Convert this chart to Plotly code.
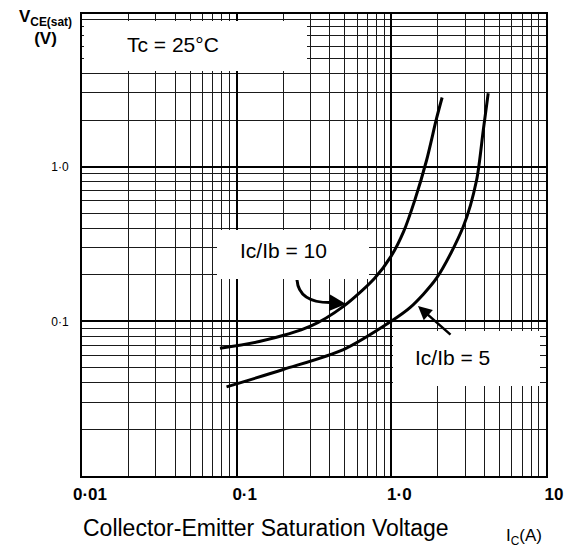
import plotly.graph_objects as go

# ---- data ----
ic_ratio10 = [0.078, 0.14, 0.30, 0.49, 0.78, 1.0, 1.2, 1.42, 1.69, 1.96, 2.13]
vce_ratio10 = [0.067, 0.074, 0.093, 0.125, 0.19, 0.265, 0.38, 0.61, 1.1, 2.05, 2.8]

ic_ratio5 = [0.086, 0.2, 0.49, 0.98, 1.32, 1.96, 2.92, 3.56, 3.93, 4.23]
vce_ratio5 = [0.0377, 0.0488, 0.0657, 0.099, 0.1226, 0.19, 0.41, 0.82, 1.72, 2.98]

x_major = [0.01, 0.1, 1, 10]
x_major_text = ["0·01", "0·1", "1·0", "10"]
y_major = [0.01, 0.1, 1, 10]
y_major_text = ["", "0·1", "1·0", ""]
decades = [0.01, 0.1, 1]
minor_mult = [2, 3, 4, 5, 6, 7, 8, 9]
minor_vals = [d * m for d in decades for m in minor_mult]

# page body adds an 8px offset; compensate so the plot lands where the reference has it
OFF = 8
W, H = 576 - OFF, 553 - OFF
PL, PR, PT, PB = 82, 546, 14, 476          # plot box in screen pixels
L, T = PL - OFF, PT - OFF
R, B = W + OFF - PR, H + OFF - PB
PW, PH = PR - PL, PB - PT


def px(xp):
    return (xp - PL) / PW


def py(yp):
    return (PB - yp) / PH


FONT = "Liberation Sans, Arial, sans-serif"

fig = go.Figure()
fig.add_trace(go.Scatter(x=ic_ratio10, y=vce_ratio10, mode="lines",
                         line=dict(color="black", width=3, shape="spline", smoothing=0.8),
                         showlegend=False, hoverinfo="skip"))
fig.add_trace(go.Scatter(x=ic_ratio5, y=vce_ratio5, mode="lines",
                         line=dict(color="black", width=3, shape="spline", smoothing=0.8),
                         showlegend=False, hoverinfo="skip"))

axis_common = dict(
    type="log", showline=True, linecolor="black", linewidth=2, mirror=True,
    showgrid=True, gridcolor="black", gridwidth=2, zeroline=False,
    ticks="", tickmode="array", automargin=False,
    minor=dict(tickmode="array", tickvals=minor_vals, showgrid=True,
               gridcolor="#1a1a1a", gridwidth=1.2, ticks=""),
)

fig.update_xaxes(range=[-2, 1], tickvals=x_major, ticktext=x_major_text,
                 tickfont=dict(family=FONT, size=17, color="black", weight="bold"),
                 ticklabelshift=8, ticklabelstandoff=2, **axis_common)
fig.update_yaxes(range=[-2, 0.987], tickvals=y_major, ticktext=y_major_text,
                 tickfont=dict(family=FONT, size=12, color="black"),
                 ticklabelstandoff=9, **axis_common)

# white label boxes over the grid
boxes = [(84, 21, 307, 71), (217, 230, 369, 279), (393, 331, 540, 386)]
shapes = []
for x0, y0, x1, y1 in boxes:
    shapes.append(dict(type="rect", xref="paper", yref="paper",
                       x0=px(x0), x1=px(x1), y0=py(y1), y1=py(y0),
                       fillcolor="white", line=dict(width=0), layer="above"))
# curved arrow stem for Ic/Ib = 10
shapes.append(dict(type="path", xref="paper", yref="paper",
                   path=f"M {px(297)} {py(280)} Q {px(299)} {py(304)} {px(334)} {py(302.5)}",
                   line=dict(color="black", width=3), layer="above"))


def label(text, x, y, size, **kw):
    d = dict(text=text, x=px(x), y=py(y), xref="paper", yref="paper",
             xanchor="center", yanchor="middle", showarrow=False,
             font=dict(family=FONT, size=size, color="black"))
    d.update(kw)
    return d


annotations = [
    label("Tc = 25°C", 173, 44, 21),
    label("Ic/Ib = 10", 283, 250, 21),
    label("Ic/Ib = 5", 452, 357, 21),
    dict(text="", x=px(346), y=py(304), xref="paper", yref="paper",
         showarrow=True, ax=-14, ay=-1, arrowhead=2, arrowsize=1.1, arrowwidth=3,
         arrowcolor="black"),
    dict(text="", x=px(418), y=py(306), xref="paper", yref="paper",
         showarrow=True, ax=34, ay=30, arrowhead=2, arrowsize=1.1, arrowwidth=2.5,
         arrowcolor="black"),
    label("<b>V<sub>CE(sat)</sub></b><br><b>(V)</b>", 45, 5, 17, yanchor="top",
          align="center"),
    label("Collector-Emitter Saturation Voltage", 266, 528, 23),
    label("I<sub>C</sub>(A)", 524, 537, 17),
]

fig.update_layout(width=W, height=H, margin=dict(l=L, r=R, t=T, b=B, pad=0),
                  paper_bgcolor="white", plot_bgcolor="white",
                  shapes=shapes, annotations=annotations, showlegend=False)

fig.write_html("out.html")
